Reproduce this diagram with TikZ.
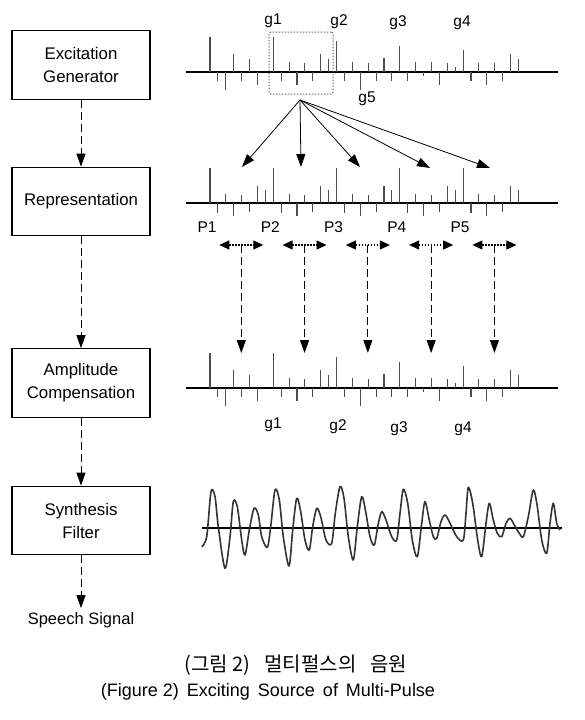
\documentclass[tikz,border=0pt]{standalone}
\usepackage{fontspec}
\setmainfont{Liberation Sans}
\newfontfamily\kofont{Noto Sans CJK KR}
\usetikzlibrary{positioning, arrows.meta}

% pulse heights by slot (slot width 7.91), up is positive
\def\rowA{0/35,1/-9.3,2/-17.7,3/17.7,4/-9.3,5/13,6/-13.3,8/35,9/-9.3,10/9.7,11/-13.3,12/9,13/-9.3,14/17.7,15/13,16/30.7,17/-9.3,18/9.7,19/-17.7,20/9,21/-9.3,22/14.3,23/-9.3,24/26.3,25/-9.3,26/9.7,27/-4.3,28/9.7,29/-13.3,30/9,31/5,32/21.7,33/-9.3,34/9,35/-13.3,36/9,37/-9.3,38/17.7,39/13}
\def\rowB{0/35,1/-10,2/9,3/-13.3,4/8.3,5/-9.3,6/17.3,7/13.3}

\tikzset{
  block/.style={draw, line width=1.2pt, minimum width=138pt, minimum height=68.5pt,
    align=center, font=\fontsize{16.8}{23}\selectfont},
  flow/.style={-{Triangle[length=13pt,width=9pt]}, dash pattern=on 8pt off 4pt, line width=0.9pt},
  fanarrow/.style={-{Triangle[length=13pt,width=9pt]}, line width=0.8pt},
  span/.style={{Triangle[length=10pt,width=9pt]}-{Triangle[length=10pt,width=9pt]},
    dash pattern=on 1.5pt off 1.5pt, line width=1.1pt},
  pulse/.style={black!70, line width=1.1pt},
  axis/.style={line width=1.2pt},
  lbl/.style={font=\fontsize{15.5}{15.5}\selectfont, inner sep=0pt},
}

\begin{document}
\begin{tikzpicture}[x=1pt, y=-1pt, node distance=136pt, on grid]
  \useasboundingbox (0,0) rectangle (584,720);

  % processing chain
  \node[block] (gen) at (81,65) {Excitation\\Generator};
  \node[block] (rep) [below=136.5pt of gen] {Representation};
  \node[block] (amp) [below=181.5pt of rep] {Amplitude\\Compensation};
  \node[block] (filt) [below=137.5pt of amp] {Synthesis\\Filter};
  \node[font=\fontsize{16.5}{16.5}\selectfont, inner sep=4pt] (speech) [below=99.5pt of filt] {Speech Signal};

  \path[flow]
    (gen) edge (rep)
    (rep) edge (amp)
    (amp) edge (filt)
    (filt) edge (speech);

  % pulse trains
  \draw[axis] (186,72) -- (558,72);
  \foreach \i/\h in \rowA
    \draw[pulse] ({210+7.91*\i},72) -- ({210+7.91*\i},{72-(\h)});
  \draw[axis] (186,203) -- (558,203);
  \foreach \j in {0,...,4}
    \foreach \i/\h in \rowB
      \draw[pulse] ({210+7.91*\i+63.28*\j},203) -- ({210+7.91*\i+63.28*\j},{203-(\h)});
  \draw[axis] (186,388) -- (558,388);
  \foreach \i/\h in \rowA
    \draw[pulse] ({210+7.91*\i},388) -- ({210+7.91*\i},{388-(\h)});

  \node[lbl] (g1) at (273,21) {g1};
  \node[lbl] (g2) at (339,22) {g2};
  \node[lbl] (g3) at (398,23) {g3};
  \node[lbl] (g4) at (462,23) {g4};
  \node[lbl] (g5) at (367,99) {g5};

  \node[draw=black!60, dash pattern=on 1.5pt off 1.5pt, line width=1pt, rounded corners=2pt,
    minimum width=64pt, minimum height=62pt] (sel) at (301,63) {};

  % fan out of the selected group
  \coordinate (fan) at (300,100);
  \coordinate (t1) at (242,167);
  \coordinate (t2) at (301,167);
  \coordinate (t3) at (360,167);
  \coordinate (t4) at (430,168);
  \coordinate (t5) at (490,168);
  \foreach \k in {1,...,5}
    \draw[fanarrow] (fan) -- (t\k);

  \foreach \k in {1,...,5}
    \node[lbl] (p\k) at ({207+63.28*(\k-1)},227) {P\k};

  % position ranges and moves
  \foreach \k in {0,...,4} {
    \coordinate (l\k) at ({219.3+63.28*\k},245);
    \coordinate (r\k) at ({263.3+63.28*\k},245);
    \coordinate (m\k) at ({241.3+63.28*\k},245);
    \coordinate (d\k) at ({241.3+63.28*\k},353);
    \draw[span] (l\k) -- (r\k);
    \draw[flow] (m\k) -- (d\k);
  }

  \node[lbl] (c1) at (273,425) {g1};
  \node[lbl] (c2) at (338,427) {g2};
  \node[lbl] (c3) at (399,429) {g3};
  \node[lbl] (c4) at (463,429) {g4};

  % synthesized speech
  \draw[axis] (202,528) -- (562,528);
  \draw[black!80, line width=1.6pt, line join=round] plot[smooth, tension=0.5] coordinates {
    (201.7,546.7) (206.7,536.7) (211,491.7) (215,496.7) (218.3,526.7) (225,568.3)
    (230,536.7) (233.3,501.7) (237.3,506.7) (241.7,540) (245,555) (249.3,530)
    (254,508.3) (258.3,515) (261.7,536.7) (267.3,547.3) (270.7,526.7) (275,490)
    (279.3,500) (283.3,536.7) (289,566) (292.7,530) (296.7,498.3) (300.7,511.7)
    (305,540) (309.3,550) (312.7,526.7) (316.7,508.3) (320.7,516.7) (326,540)
    (331.7,543.3) (335.3,513.3) (340,486.7) (344,498.3) (348.3,536.7) (353.3,560)
    (357.3,526.7) (361.7,496.7) (365.7,511.7) (370,536.7) (374.3,545) (378,525)
    (381.7,511.7) (386,520) (391.7,536.7) (396.7,540) (400,513.3) (403.3,489.3)
    (407.7,503.3) (412.3,540) (417.3,556.7) (421.7,523.3) (425,501.7) (429.3,520)
    (433.3,536.7) (436.7,538.3) (441,521.7) (445,515) (449.3,521.7) (456.7,536.7)
    (463.3,540) (466,513.3) (468.3,487.3) (472.7,503.3) (477.7,540) (481.7,556.7)
    (486,523.3) (489.3,503.3) (493.3,520) (497.3,533.3) (501.7,536.7) (506,523.3)
    (510,518.3) (514.3,525) (519.3,533.3) (523.3,536.7) (528.3,516.7) (533.3,490)
    (537.3,506.7) (541.7,540) (546.7,553.3) (550,523.3) (553.3,503.3) (556.7,523.3)
    (560,530)};

  % caption
  \node (cap1) at (296,665) {\kofont\fontsize{20}{20}\selectfont (그림 2)\hspace{14pt}멀티펄스의\hspace{14pt}음원};
  \node (cap2) at (268,692) {\fontsize{18}{18}\selectfont (Figure 2)\hspace{8pt}Exciting\hspace{8pt}Source\hspace{8pt}of\hspace{8pt}Multi-Pulse};
\end{tikzpicture}
\end{document}
